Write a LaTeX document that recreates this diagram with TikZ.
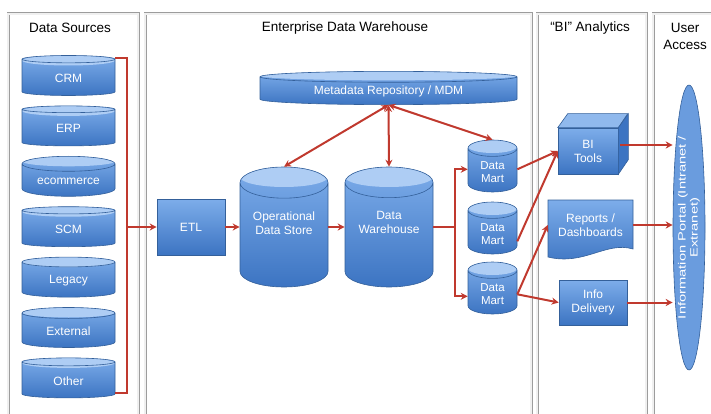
\documentclass[tikz,border=0pt]{standalone}
\usepackage{fontspec}
\usepackage{graphicx}
\setmainfont{Liberation Sans}
\usetikzlibrary{shapes.geometric,arrows.meta}
\definecolor{dbhi}{HTML}{7DADEA}
\definecolor{dblo}{HTML}{3C74C2}
\definecolor{dbtop}{HTML}{AECDF4}
\definecolor{dbedge}{HTML}{34609A}
\definecolor{flowred}{HTML}{C0392E}
\definecolor{panelgray}{HTML}{9C9C9C}
\begin{document}
\begin{tikzpicture}[x=1pt,y=-1pt,
  panel/.style={draw=panelgray,line width=0.7pt,double=gray!12,double distance=1.6pt},
  head/.style={font=\fontsize{13.5}{17}\selectfont,align=center},
  bluebody/.style={draw=dbedge,line width=0.6pt,top color=dbhi,bottom color=dblo,
    text=white,align=center,font=\fontsize{12}{14}\selectfont},
  bluebox/.style 2 args={bluebody,rectangle,minimum width=#1,minimum height=#2},
  db/.style n args={4}{bluebody,cylinder,shape border rotate=90,aspect=#3,
    anchor=shape center,minimum width=#1,minimum height=#2,
    path picture={\fill[dbtop] ([yshift=-#4pt]path picture bounding box.north)
      ellipse [x radius=#1/2,y radius=#4];}},
  wire/.style={draw=flowred,line width=2pt},
  flow/.style={wire,-{Stealth[length=7pt,width=7pt]}},
  twoway/.style={wire,{Stealth[length=7pt,width=7pt]}-{Stealth[length=7pt,width=7pt]}}]
\useasboundingbox (0,0) rectangle (711,414);

% columns
\draw[panel] (8,14) rectangle (138,425);
\draw[panel] (145,14) rectangle (531,425);
\draw[panel] (537,14) rectangle (646,425);
\draw[panel] (653,14) rectangle (725,425);
\node[head] (hsrc) at (70,28) {Data Sources};
\node[head] (hedw) at (345,28) {Enterprise Data Warehouse};
\node[head] (hbi) at (590,28) {“BI” Analytics};
\node[head] (huser) at (685,36) {User\\Access};

% data sources
\foreach \nm/\txt [count=\i from 0] in {crm/CRM,erp/ERP,ecom/ecommerce,scm/SCM,
    legacy/Legacy,ext/External,other/Other}
  \node[db={93}{40}{0.216}{5}] (\nm) at (68.5,75.5+50.4*\i) {\txt};

% warehouse
\node[bluebox={68}{56}] (etl) at (191,227) {ETL};
\node[db={88}{120}{0.454}{10},text depth=30pt] (ods) at (284,227) {Operational\\Data Store};
\node[db={88}{120}{0.454}{10},text depth=30pt] (dw) at (389,227) {Data\\Warehouse};
\node[db={257}{30}{0.07}{4.5}] (meta) at (388.5,88) {Metadata Repository / MDM};
\node[db={49}{52}{0.53}{6.5},font=\fontsize{11.5}{13}\selectfont] (dm1) at (492.5,166) {Data\\Mart};
\node[db={49}{52}{0.53}{6.5},font=\fontsize{11.5}{13}\selectfont] (dm2) at (492.5,228) {Data\\Mart};
\node[db={49}{52}{0.53}{6.5},font=\fontsize{11.5}{13}\selectfont] (dm3) at (492.5,288) {Data\\Mart};

% analytics
\node[bluebox={60}{46}] (bi) at (588,151) {BI\\Tools};
\draw[dbedge,line width=0.6pt,fill=dbhi!85!white] (bi.north west) -- ++(10,-14) -- ++(60,0)
  -- (bi.north east) -- cycle;
\draw[dbedge,line width=0.6pt,fill=dblo] (bi.north east) -- ++(10,-14) -- ++(0,46)
  -- (bi.south east) -- cycle;
\path[draw=dbedge,line width=0.6pt,top color=dbhi,bottom color=dblo] (548,200) -- (633,200)
  -- (633,249) .. controls (606,241) and (584,266) .. (548,257) -- cycle;
\node[text=white,align=center,font=\fontsize{12}{14}\selectfont,minimum width=85,
  minimum height=50] (rep) at (590.5,225) {Reports /\\Dashboards};
\node[bluebox={68}{45}] (info) at (593,302.5) {Info\\Delivery};

% user access
\node[ellipse,rotate=90,draw=dbedge,line width=0.6pt,fill=dbhi!70!dblo,text=white,
  align=center,inner sep=0pt,minimum width=285,minimum height=32,
  font=\fontsize{10.5}{12}\selectfont] (portal) at (689,227.5)
  {\scalebox{1.4}[1]{Information Portal (Intranet /}\\\scalebox{1.4}[1]{Extranet)}};

% connectors
\coordinate (bustop) at (127,58);
\coordinate (busbot) at (127,393);
\draw[wire] (crm.east |- bustop) -- (bustop) -- (busbot) -- (other.east |- busbot);
\draw[flow] (busbot |- etl.west) -- (etl.west);
\draw[flow] (etl) -- (etl -| ods.west);
\draw[flow] (ods.east |- etl) -- (dw.west |- etl);
\draw[twoway] (meta.south) -- (ods.north);
\draw[twoway] (meta.south) -- (dw.north);
\draw[twoway] (meta.south) -- (dm1.north);
\coordinate (split) at (455,227);
\draw[wire] (dw.east |- split) -- (split);
\draw[flow] (split) |- ([yshift=3pt]dm1.west);
\draw[flow] (split) |- ([yshift=-2pt]dm3.west);
\draw[flow] ([yshift=3pt]dm1.east) -- (bi.west);
\draw[flow] ([yshift=-7pt]dm2.east) -- (bi.west);
\draw[flow] (dm3.east) -- (rep.west);
\draw[flow] (dm3.east) -- (info.west);
\draw[flow] ([yshift=6pt,xshift=2pt]bi.east) -- ([yshift=6pt]bi.east -| portal.north);
\draw[flow] (rep.east) -- (rep.east -| portal.north);
\draw[flow] (info.east) -- (info.east -| portal.north);
\end{tikzpicture}
\end{document}
